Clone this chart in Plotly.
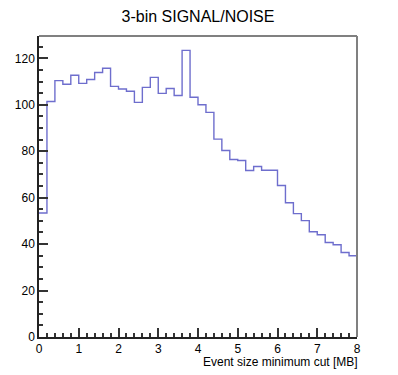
import numpy as np
import plotly.graph_objects as go

title = "3-bin SIGNAL/NOISE"
x_title = "Event size minimum cut [MB]"
x_min, x_max, n_bins = 0.0, 8.0, 40
values = [53.4, 101.4, 110.4, 108.8, 112.7, 109.2, 110.9, 113.9, 115.7, 107.9,
          106.8, 105.8, 101.0, 107.5, 111.8, 104.9, 107.0, 104.0, 123.4, 103.2,
          100.0, 96.7, 85.2, 80.3, 76.4, 76.0, 71.7, 73.4, 71.8, 71.8,
          65.2, 57.8, 53.1, 50.1, 45.3, 44.0, 40.7, 39.7, 36.4, 35.0]

edges = np.linspace(x_min, x_max, n_bins + 1)
xs = list(edges)
ys = list(values) + [values[-1]]

fig = go.Figure()
fig.add_trace(go.Scatter(x=xs, y=ys, mode="lines", line_shape="hv",
                         line=dict(color="rgb(110,110,205)", width=1.4),
                         hoverinfo="skip", showlegend=False))

axis_common = dict(showgrid=False, zeroline=False, showline=True, automargin=False,
                   linecolor="#222222", linewidth=1.5, ticks="inside",
                   tickcolor="#333333", tickwidth=1.5, ticklen=9,
                   tickfont=dict(family="Liberation Sans, Arial", size=12, color="black"))

fig.update_layout(
    width=398, height=375,
    margin=dict(l=39, r=41, t=36, b=38, autoexpand=False),
    paper_bgcolor="white", plot_bgcolor="white",
    title=dict(text=title, x=0.5, xanchor="center", xref="paper", y=0.956, yanchor="middle",
               font=dict(family="Liberation Sans, Arial", size=16, color="black")),
    xaxis=dict(range=[x_min, x_max], dtick=1, tick0=0,
               minor=dict(ticks="inside", dtick=0.2, ticklen=4.5, tickcolor="#333333", tickwidth=1.5),
               **axis_common),
    yaxis=dict(range=[0, 129.6], dtick=20, tick0=0,
               minor=dict(ticks="inside", dtick=5, ticklen=4.5, tickcolor="#333333", tickwidth=1.5),
               **axis_common),
    shapes=[
        dict(type="line", xref="paper", yref="paper", x0=0, x1=1, y0=1, y1=1,
             line=dict(color="#808080", width=2)),
        dict(type="line", xref="paper", yref="paper", x0=1, x1=1, y0=0, y1=1,
             line=dict(color="#808080", width=2)),
    ],
    annotations=[dict(text=x_title, xref="paper", yref="paper", x=1, y=0,
                      xanchor="right", yanchor="top", yshift=-16, xshift=3, showarrow=False,
                      font=dict(family="Liberation Sans, Arial", size=12, color="black"))],
)

fig.write_html("out.html", config={"displayModeBar": False},
               post_script="document.body.style.margin='0';")
